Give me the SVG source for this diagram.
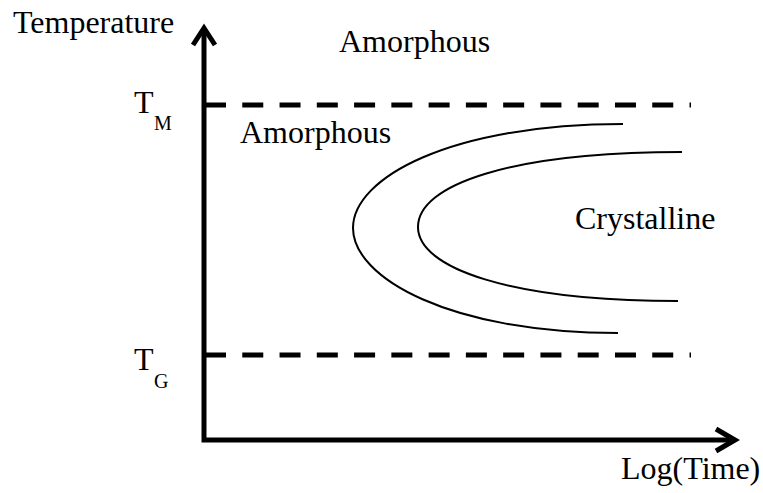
<svg xmlns="http://www.w3.org/2000/svg" width="763" height="493" viewBox="0 0 763 493">
<style>
text{font-family:"Liberation Serif","Times New Roman",serif;fill:#000}
.lbl{font-size:32px}
.sub{font-size:20px}
.axis{fill:none;stroke:#000;stroke-width:5}
.dash{fill:none;stroke:#000;stroke-width:5;stroke-dasharray:21 16.27}
.curve{fill:none;stroke:#000;stroke-width:2}
</style>
<rect width="763" height="493" fill="#fff"/>
<g id="connectors">
<path class="axis" d="M204,28 V440 H734" stroke-linejoin="miter" stroke-linecap="butt"/>
<path class="axis" d="M193,45 L204,28 L215,45" stroke-linejoin="miter"/>
<path class="axis" d="M716,429 L735,440 L716,451" stroke-linejoin="miter"/>
<path class="dash" d="M205,105 H691"/>
<path class="dash" d="M205,355 H691"/>
</g>
<g id="outer-curve">
<path class="curve" d="M623,124 C450,124 353,178 353,228 C353,278 450,333 618,333"/>
</g>
<g id="inner-curve">
<path class="curve" d="M682,152 C510,152 418,185 418,227 C418,268 510,301 678,301"/>
</g>
<g id="labels">
<text class="lbl" x="13" y="33">Temperature</text>
<text class="lbl" x="339" y="52">Amorphous</text>
<text class="lbl" x="240" y="143">Amorphous</text>
<text class="lbl" x="575" y="229">Crystalline</text>
<text class="lbl" x="134" y="113">T</text>
<text class="sub" x="154" y="130">M</text>
<text class="lbl" x="134" y="370">T</text>
<text class="sub" x="154" y="388">G</text>
<text class="lbl" x="621" y="479">Log(Time)</text>
</g>
</svg>
